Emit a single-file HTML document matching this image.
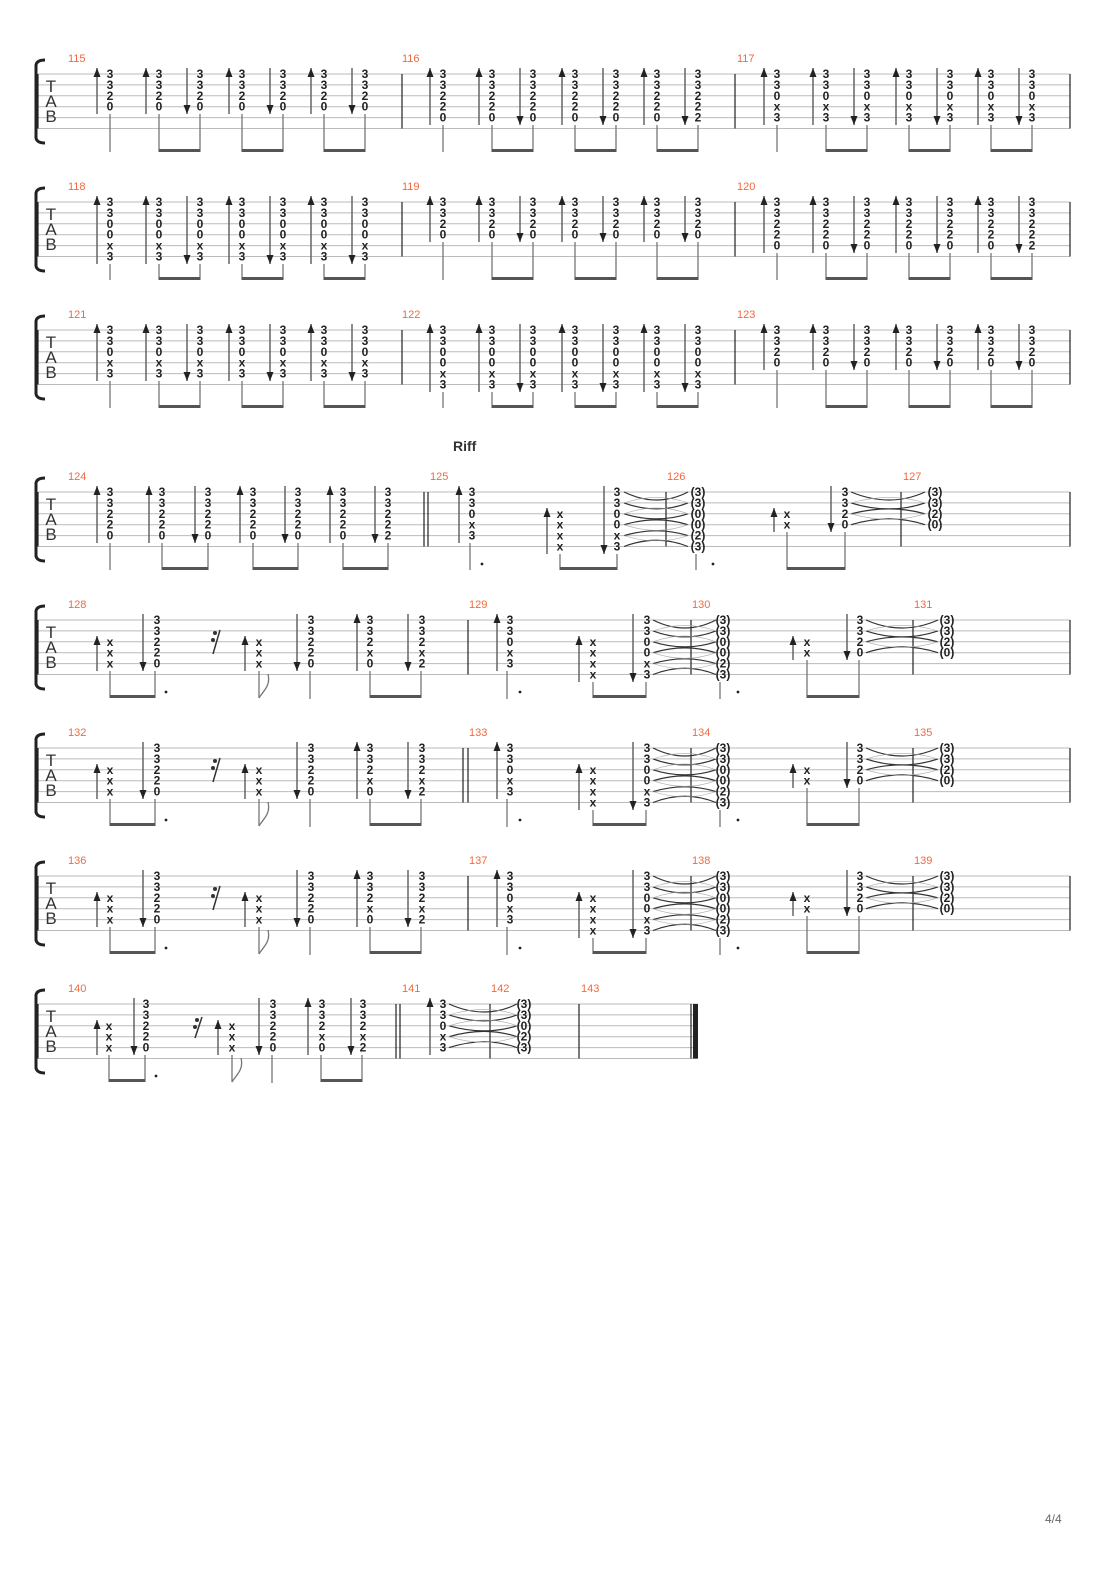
<!DOCTYPE html>
<html><head><meta charset="utf-8"><style>
html,body{margin:0;padding:0;background:#fff}
svg{display:block}
.d{font-family:"Liberation Sans",sans-serif;font-weight:bold;font-size:12px;text-anchor:middle;fill:#222}
.n{font-family:"Liberation Sans",sans-serif;font-size:11px;fill:#f4683c}
.t{font-family:"Liberation Sans",sans-serif;font-size:17px;fill:#333;text-anchor:middle}
.st{stroke:#bbb;stroke-width:1;fill:none}
.bl{stroke:#222;stroke-width:1.2;fill:none}
.br{stroke:#222;stroke-width:3;fill:none}
.sh{stroke:#666;stroke-width:1.5;fill:none}
.hd{fill:#222}
.sm{stroke:#777;stroke-width:1.3;fill:none}
.bm{stroke:#555;stroke-width:3;fill:none}
.ti{stroke:#333;stroke-width:1.2;fill:none}
.tt{stroke:#aaa;stroke-width:0.6;fill:none}
</style></head><body>
<svg width="1110" height="1570" viewBox="0 0 1110 1570" xmlns="http://www.w3.org/2000/svg">

<!-- ===== SYSTEM 1 ===== -->
<g>
<path class="st" d="M38 74H1070M38 84.9H1070M38 95.8H1070M38 106.7H1070M38 117.6H1070M38 128.5H1070"/>
<path class="bl" d="M38 74V128.5M402 74V128.5M735 74V128.5M1070 74V128.5"/>
<path class="br" d="M45 60Q37 60 36 65V138Q37 143 45 143"/>
<text class="t" x="51" y="92">T</text><text class="t" x="51" y="107">A</text><text class="t" x="51" y="122">B</text>
<text class="n" x="68" y="62">115</text><text class="n" x="402" y="62">116</text><text class="n" x="737" y="62">117</text>
<!-- A -->
<text class="d" x="110 110 110 110" y="78 88.9 99.8 110.7">3320</text>
<text class="d" x="159 159 159 159" y="78 88.9 99.8 110.7">3320</text>
<text class="d" x="200 200 200 200" y="78 88.9 99.8 110.7">3320</text>
<text class="d" x="242 242 242 242" y="78 88.9 99.8 110.7">3320</text>
<text class="d" x="283 283 283 283" y="78 88.9 99.8 110.7">3320</text>
<text class="d" x="324 324 324 324" y="78 88.9 99.8 110.7">3320</text>
<text class="d" x="365 365 365 365" y="78 88.9 99.8 110.7">3320</text>
<path class="sh" d="M97 68V114M146 68V114M187 68V114M229 68V114M270 68V114M311 68V114M352 68V114"/>
<path class="hd" d="M97 68l-3.5 9h7zM146 68l-3.5 9h7zM229 68l-3.5 9h7zM311 68l-3.5 9h7zM187 114l-3.5-9h7zM270 114l-3.5-9h7zM352 114l-3.5-9h7z"/>
<path class="sm" d="M110 114V152M159 114V152M200 114V152M242 114V152M283 114V152M324 114V152M365 114V152"/>
<path class="bm" d="M159 150.5H200M242 150.5H283M324 150.5H365"/>
<!-- B -->
<text class="d" x="443 443 443 443 443" y="78 88.9 99.8 110.7 121.6">33220</text>
<text class="d" x="492 492 492 492 492" y="78 88.9 99.8 110.7 121.6">33220</text>
<text class="d" x="533 533 533 533 533" y="78 88.9 99.8 110.7 121.6">33220</text>
<text class="d" x="575 575 575 575 575" y="78 88.9 99.8 110.7 121.6">33220</text>
<text class="d" x="616 616 616 616 616" y="78 88.9 99.8 110.7 121.6">33220</text>
<text class="d" x="657 657 657 657 657" y="78 88.9 99.8 110.7 121.6">33220</text>
<text class="d" x="698 698 698 698 698" y="78 88.9 99.8 110.7 121.6">33222</text>
<path class="sh" d="M430 68V125M479 68V125M520 68V125M562 68V125M603 68V125M644 68V125M685 68V125"/>
<path class="hd" d="M430 68l-3.5 9h7zM479 68l-3.5 9h7zM562 68l-3.5 9h7zM644 68l-3.5 9h7zM520 125l-3.5-9h7zM603 125l-3.5-9h7zM685 125l-3.5-9h7z"/>
<path class="sm" d="M443 125V152M492 125V152M533 125V152M575 125V152M616 125V152M657 125V152M698 125V152"/>
<path class="bm" d="M492 150.5H533M575 150.5H616M657 150.5H698"/>
<!-- C -->
<text class="d" x="777 777 777 777 777" y="78 88.9 99.8 110.7 121.6">330x3</text>
<text class="d" x="826 826 826 826 826" y="78 88.9 99.8 110.7 121.6">330x3</text>
<text class="d" x="867 867 867 867 867" y="78 88.9 99.8 110.7 121.6">330x3</text>
<text class="d" x="909 909 909 909 909" y="78 88.9 99.8 110.7 121.6">330x3</text>
<text class="d" x="950 950 950 950 950" y="78 88.9 99.8 110.7 121.6">330x3</text>
<text class="d" x="991 991 991 991 991" y="78 88.9 99.8 110.7 121.6">330x3</text>
<text class="d" x="1032 1032 1032 1032 1032" y="78 88.9 99.8 110.7 121.6">330x3</text>
<path class="sh" d="M764 68V125M813 68V125M854 68V125M896 68V125M937 68V125M978 68V125M1019 68V125"/>
<path class="hd" d="M764 68l-3.5 9h7zM813 68l-3.5 9h7zM896 68l-3.5 9h7zM978 68l-3.5 9h7zM854 125l-3.5-9h7zM937 125l-3.5-9h7zM1019 125l-3.5-9h7z"/>
<path class="sm" d="M777 125V152M826 125V152M867 125V152M909 125V152M950 125V152M991 125V152M1032 125V152"/>
<path class="bm" d="M826 150.5H867M909 150.5H950M991 150.5H1032"/>
</g>

<!-- ===== SYSTEM 2 ===== -->
<g transform="translate(0 128)">
<path class="st" d="M38 74H1070M38 84.9H1070M38 95.8H1070M38 106.7H1070M38 117.6H1070M38 128.5H1070"/>
<path class="bl" d="M38 74V128.5M402 74V128.5M735 74V128.5M1070 74V128.5"/>
<path class="br" d="M45 60Q37 60 36 65V138Q37 143 45 143"/>
<text class="t" x="51" y="92">T</text><text class="t" x="51" y="107">A</text><text class="t" x="51" y="122">B</text>
<text class="n" x="68" y="62">118</text><text class="n" x="402" y="62">119</text><text class="n" x="737" y="62">120</text>
<!-- A 6 -->
<text class="d" x="110 110 110 110 110 110" y="78 88.9 99.8 110.7 121.6 132.5">3300x3</text>
<text class="d" x="159 159 159 159 159 159" y="78 88.9 99.8 110.7 121.6 132.5">3300x3</text>
<text class="d" x="200 200 200 200 200 200" y="78 88.9 99.8 110.7 121.6 132.5">3300x3</text>
<text class="d" x="242 242 242 242 242 242" y="78 88.9 99.8 110.7 121.6 132.5">3300x3</text>
<text class="d" x="283 283 283 283 283 283" y="78 88.9 99.8 110.7 121.6 132.5">3300x3</text>
<text class="d" x="324 324 324 324 324 324" y="78 88.9 99.8 110.7 121.6 132.5">3300x3</text>
<text class="d" x="365 365 365 365 365 365" y="78 88.9 99.8 110.7 121.6 132.5">3300x3</text>
<path class="sh" d="M97 68V136M146 68V136M187 68V136M229 68V136M270 68V136M311 68V136M352 68V136"/>
<path class="hd" d="M97 68l-3.5 9h7zM146 68l-3.5 9h7zM229 68l-3.5 9h7zM311 68l-3.5 9h7zM187 136l-3.5-9h7zM270 136l-3.5-9h7zM352 136l-3.5-9h7z"/>
<path class="sm" d="M110 136V152M159 136V152M200 136V152M242 136V152M283 136V152M324 136V152M365 136V152"/>
<path class="bm" d="M159 150.5H200M242 150.5H283M324 150.5H365"/>
<!-- B 4 -->
<text class="d" x="443 443 443 443" y="78 88.9 99.8 110.7">3320</text>
<text class="d" x="492 492 492 492" y="78 88.9 99.8 110.7">3320</text>
<text class="d" x="533 533 533 533" y="78 88.9 99.8 110.7">3320</text>
<text class="d" x="575 575 575 575" y="78 88.9 99.8 110.7">3320</text>
<text class="d" x="616 616 616 616" y="78 88.9 99.8 110.7">3320</text>
<text class="d" x="657 657 657 657" y="78 88.9 99.8 110.7">3320</text>
<text class="d" x="698 698 698 698" y="78 88.9 99.8 110.7">3320</text>
<path class="sh" d="M430 68V114M479 68V114M520 68V114M562 68V114M603 68V114M644 68V114M685 68V114"/>
<path class="hd" d="M430 68l-3.5 9h7zM479 68l-3.5 9h7zM562 68l-3.5 9h7zM644 68l-3.5 9h7zM520 114l-3.5-9h7zM603 114l-3.5-9h7zM685 114l-3.5-9h7z"/>
<path class="sm" d="M443 114V152M492 114V152M533 114V152M575 114V152M616 114V152M657 114V152M698 114V152"/>
<path class="bm" d="M492 150.5H533M575 150.5H616M657 150.5H698"/>
<!-- C 5 -->
<text class="d" x="777 777 777 777 777" y="78 88.9 99.8 110.7 121.6">33220</text>
<text class="d" x="826 826 826 826 826" y="78 88.9 99.8 110.7 121.6">33220</text>
<text class="d" x="867 867 867 867 867" y="78 88.9 99.8 110.7 121.6">33220</text>
<text class="d" x="909 909 909 909 909" y="78 88.9 99.8 110.7 121.6">33220</text>
<text class="d" x="950 950 950 950 950" y="78 88.9 99.8 110.7 121.6">33220</text>
<text class="d" x="991 991 991 991 991" y="78 88.9 99.8 110.7 121.6">33220</text>
<text class="d" x="1032 1032 1032 1032 1032" y="78 88.9 99.8 110.7 121.6">33222</text>
<path class="sh" d="M764 68V125M813 68V125M854 68V125M896 68V125M937 68V125M978 68V125M1019 68V125"/>
<path class="hd" d="M764 68l-3.5 9h7zM813 68l-3.5 9h7zM896 68l-3.5 9h7zM978 68l-3.5 9h7zM854 125l-3.5-9h7zM937 125l-3.5-9h7zM1019 125l-3.5-9h7z"/>
<path class="sm" d="M777 125V152M826 125V152M867 125V152M909 125V152M950 125V152M991 125V152M1032 125V152"/>
<path class="bm" d="M826 150.5H867M909 150.5H950M991 150.5H1032"/>
</g>

<!-- ===== SYSTEM 3 ===== -->
<g transform="translate(0 256)">
<path class="st" d="M38 74H1070M38 84.9H1070M38 95.8H1070M38 106.7H1070M38 117.6H1070M38 128.5H1070"/>
<path class="bl" d="M38 74V128.5M402 74V128.5M735 74V128.5M1070 74V128.5"/>
<path class="br" d="M45 60Q37 60 36 65V138Q37 143 45 143"/>
<text class="t" x="51" y="92">T</text><text class="t" x="51" y="107">A</text><text class="t" x="51" y="122">B</text>
<text class="n" x="68" y="62">121</text><text class="n" x="402" y="62">122</text><text class="n" x="737" y="62">123</text>
<!-- A 5 -->
<text class="d" x="110 110 110 110 110" y="78 88.9 99.8 110.7 121.6">330x3</text>
<text class="d" x="159 159 159 159 159" y="78 88.9 99.8 110.7 121.6">330x3</text>
<text class="d" x="200 200 200 200 200" y="78 88.9 99.8 110.7 121.6">330x3</text>
<text class="d" x="242 242 242 242 242" y="78 88.9 99.8 110.7 121.6">330x3</text>
<text class="d" x="283 283 283 283 283" y="78 88.9 99.8 110.7 121.6">330x3</text>
<text class="d" x="324 324 324 324 324" y="78 88.9 99.8 110.7 121.6">330x3</text>
<text class="d" x="365 365 365 365 365" y="78 88.9 99.8 110.7 121.6">330x3</text>
<path class="sh" d="M97 68V125M146 68V125M187 68V125M229 68V125M270 68V125M311 68V125M352 68V125"/>
<path class="hd" d="M97 68l-3.5 9h7zM146 68l-3.5 9h7zM229 68l-3.5 9h7zM311 68l-3.5 9h7zM187 125l-3.5-9h7zM270 125l-3.5-9h7zM352 125l-3.5-9h7z"/>
<path class="sm" d="M110 125V152M159 125V152M200 125V152M242 125V152M283 125V152M324 125V152M365 125V152"/>
<path class="bm" d="M159 150.5H200M242 150.5H283M324 150.5H365"/>
<!-- B 6 -->
<text class="d" x="443 443 443 443 443 443" y="78 88.9 99.8 110.7 121.6 132.5">3300x3</text>
<text class="d" x="492 492 492 492 492 492" y="78 88.9 99.8 110.7 121.6 132.5">3300x3</text>
<text class="d" x="533 533 533 533 533 533" y="78 88.9 99.8 110.7 121.6 132.5">3300x3</text>
<text class="d" x="575 575 575 575 575 575" y="78 88.9 99.8 110.7 121.6 132.5">3300x3</text>
<text class="d" x="616 616 616 616 616 616" y="78 88.9 99.8 110.7 121.6 132.5">3300x3</text>
<text class="d" x="657 657 657 657 657 657" y="78 88.9 99.8 110.7 121.6 132.5">3300x3</text>
<text class="d" x="698 698 698 698 698 698" y="78 88.9 99.8 110.7 121.6 132.5">3300x3</text>
<path class="sh" d="M430 68V136M479 68V136M520 68V136M562 68V136M603 68V136M644 68V136M685 68V136"/>
<path class="hd" d="M430 68l-3.5 9h7zM479 68l-3.5 9h7zM562 68l-3.5 9h7zM644 68l-3.5 9h7zM520 136l-3.5-9h7zM603 136l-3.5-9h7zM685 136l-3.5-9h7z"/>
<path class="sm" d="M443 136V152M492 136V152M533 136V152M575 136V152M616 136V152M657 136V152M698 136V152"/>
<path class="bm" d="M492 150.5H533M575 150.5H616M657 150.5H698"/>
<!-- C 4 -->
<text class="d" x="777 777 777 777" y="78 88.9 99.8 110.7">3320</text>
<text class="d" x="826 826 826 826" y="78 88.9 99.8 110.7">3320</text>
<text class="d" x="867 867 867 867" y="78 88.9 99.8 110.7">3320</text>
<text class="d" x="909 909 909 909" y="78 88.9 99.8 110.7">3320</text>
<text class="d" x="950 950 950 950" y="78 88.9 99.8 110.7">3320</text>
<text class="d" x="991 991 991 991" y="78 88.9 99.8 110.7">3320</text>
<text class="d" x="1032 1032 1032 1032" y="78 88.9 99.8 110.7">3320</text>
<path class="sh" d="M764 68V114M813 68V114M854 68V114M896 68V114M937 68V114M978 68V114M1019 68V114"/>
<path class="hd" d="M764 68l-3.5 9h7zM813 68l-3.5 9h7zM896 68l-3.5 9h7zM978 68l-3.5 9h7zM854 114l-3.5-9h7zM937 114l-3.5-9h7zM1019 114l-3.5-9h7z"/>
<path class="sm" d="M777 114V152M826 114V152M867 114V152M909 114V152M950 114V152M991 114V152M1032 114V152"/>
<path class="bm" d="M826 150.5H867M909 150.5H950M991 150.5H1032"/>
</g>

<!-- Riff label -->
<text x="453" y="451" style="font-family:'Liberation Sans',sans-serif;font-weight:bold;font-size:14px;fill:#333">Riff</text>

<!-- ===== SYSTEM 4 ===== -->
<g transform="translate(0 418)">
<path class="st" d="M38 74H1070M38 84.9H1070M38 95.8H1070M38 106.7H1070M38 117.6H1070M38 128.5H1070"/>
<path class="bl" d="M38 74V128.5M424 74V128.5M428 74V128.5M666 74V128.5M901 74V128.5M1070 74V128.5"/>
<path class="br" d="M45 60Q37 60 36 65V138Q37 143 45 143"/>
<text class="t" x="51" y="92">T</text><text class="t" x="51" y="107">A</text><text class="t" x="51" y="122">B</text>
<text class="n" x="68" y="62">124</text><text class="n" x="430" y="62">125</text><text class="n" x="667" y="62">126</text><text class="n" x="903" y="62">127</text>
<!-- 124 -->
<text class="d" x="110 110 110 110 110" y="78 88.9 99.8 110.7 121.6">33220</text>
<text class="d" x="162 162 162 162 162" y="78 88.9 99.8 110.7 121.6">33220</text>
<text class="d" x="208 208 208 208 208" y="78 88.9 99.8 110.7 121.6">33220</text>
<text class="d" x="253 253 253 253 253" y="78 88.9 99.8 110.7 121.6">33220</text>
<text class="d" x="298 298 298 298 298" y="78 88.9 99.8 110.7 121.6">33220</text>
<text class="d" x="343 343 343 343 343" y="78 88.9 99.8 110.7 121.6">33220</text>
<text class="d" x="388 388 388 388 388" y="78 88.9 99.8 110.7 121.6">33222</text>
<path class="sh" d="M97 68V125M149 68V125M195 68V125M240 68V125M285 68V125M330 68V125M375 68V125"/>
<path class="hd" d="M97 68l-3.5 9h7zM149 68l-3.5 9h7zM240 68l-3.5 9h7zM330 68l-3.5 9h7zM195 125l-3.5-9h7zM285 125l-3.5-9h7zM375 125l-3.5-9h7z"/>
<path class="sm" d="M110 125V152M162 125V152M208 125V152M253 125V152M298 125V152M343 125V152M388 125V152"/>
<path class="bm" d="M162 150.5H208M253 150.5H298M343 150.5H388"/>
<!-- 125-127 -->
<text class="d" x="472 472 472 472 472" y="78 88.9 99.8 110.7 121.6">330x3</text>
<text class="d" x="560 560 560 560" y="99.8 110.7 121.6 132.5">xxxx</text>
<text class="d" x="617 617 617 617 617 617" y="78 88.9 99.8 110.7 121.6 132.5">3300x3</text>
<text class="d"><tspan x="698" y="78">(3)</tspan><tspan x="698" y="88.9">(3)</tspan><tspan x="698" y="99.8">(0)</tspan><tspan x="698" y="110.7">(0)</tspan><tspan x="698" y="121.6">(2)</tspan><tspan x="698" y="132.5">(3)</tspan></text>
<text class="d" x="787 787" y="99.8 110.7">xx</text>
<text class="d" x="845 845 845 845" y="78 88.9 99.8 110.7">3320</text>
<text class="d"><tspan x="935" y="78">(3)</tspan><tspan x="935" y="88.9">(3)</tspan><tspan x="935" y="99.8">(2)</tspan><tspan x="935" y="110.7">(0)</tspan></text>
<path class="sh" d="M459 68V125M547 90V136M604 68V136M774 90V114M831 68V114"/>
<path class="hd" d="M459 68l-3.5 9h7zM547 90l-3.5 9h7zM774 90l-3.5 9h7zM604 136l-3.5-9h7zM831 114l-3.5-9h7z"/>
<path class="sm" d="M470 125V152M560 136V152M617 136V152M696 136V152M787 114V152M845 114V152"/>
<path class="bm" d="M560 150.5H617M787 150.5H845"/>
<circle cx="482" cy="146" r="1.4" fill="#222"/><circle cx="713" cy="146" r="1.4" fill="#222"/>
<path class="ti" d="M624 74Q657 90 688 74M624 84.9Q657 97 688 84.9M624 95.8Q657 106 688 95.8M624 106.7Q657 97 688 106.7M624 117.6Q657 108 688 117.6M624 128.5Q657 116 688 128.5"/>
<path class="tt" d="M624 84.9Q657 74 688 84.9M624 95.8Q657 84 688 95.8M624 106.7Q657 118 688 106.7M624 117.6Q657 128 688 117.6"/>
<path class="ti" d="M851 74Q890 90 925 74M851 84.9Q890 97 925 84.9M851 95.8Q890 86 925 95.8M851 106.7Q890 95 925 106.7"/>
<path class="tt" d="M851 84.9Q890 74 925 84.9M851 95.8Q890 107 925 95.8"/>
</g>

<!-- ===== SYSTEMS 5-7 ===== -->
<g transform="translate(0 546)">
<path class="st" d="M38 74H1070M38 84.9H1070M38 95.8H1070M38 106.7H1070M38 117.6H1070M38 128.5H1070"/>
<path class="bl" d="M38 74V128.5M468 74V128.5M691 74V128.5M913 74V128.5M1070 74V128.5"/>
<path class="br" d="M45 60Q37 60 36 65V138Q37 143 45 143"/>
<text class="t" x="51" y="92">T</text><text class="t" x="51" y="107">A</text><text class="t" x="51" y="122">B</text>
<text class="n" x="68" y="62">128</text><text class="n" x="469" y="62">129</text><text class="n" x="692" y="62">130</text><text class="n" x="914" y="62">131</text>
<text class="d" x="110 110 110" y="99.8 110.7 121.6">xxx</text>
<text class="d" x="157 157 157 157 157" y="78 88.9 99.8 110.7 121.6">33220</text>
<text class="d" x="259 259 259" y="99.8 110.7 121.6">xxx</text>
<text class="d" x="311 311 311 311 311" y="78 88.9 99.8 110.7 121.6">33220</text>
<text class="d" x="370 370 370 370 370" y="78 88.9 99.8 110.7 121.6">332x0</text>
<text class="d" x="422 422 422 422 422" y="78 88.9 99.8 110.7 121.6">332x2</text>
<text class="d" x="510 510 510 510 510" y="78 88.9 99.8 110.7 121.6">330x3</text>
<text class="d" x="593 593 593 593" y="99.8 110.7 121.6 132.5">xxxx</text>
<text class="d" x="647 647 647 647 647 647" y="78 88.9 99.8 110.7 121.6 132.5">3300x3</text>
<text class="d"><tspan x="723" y="78">(3)</tspan><tspan x="723" y="88.9">(3)</tspan><tspan x="723" y="99.8">(0)</tspan><tspan x="723" y="110.7">(0)</tspan><tspan x="723" y="121.6">(2)</tspan><tspan x="723" y="132.5">(3)</tspan></text>
<text class="d" x="807 807" y="99.8 110.7">xx</text>
<text class="d" x="860 860 860 860" y="78 88.9 99.8 110.7">3320</text>
<text class="d"><tspan x="947" y="78">(3)</tspan><tspan x="947" y="88.9">(3)</tspan><tspan x="947" y="99.8">(2)</tspan><tspan x="947" y="110.7">(0)</tspan></text>
<path class="sh" d="M97 90V125M143 68V125M245 90V125M297 68V125M357 68V125M408 68V125M497 68V125M579 90V136M633 68V136M793 90V114M847 68V114"/>
<path class="hd" d="M97 90l-3.5 9h7zM245 90l-3.5 9h7zM357 68l-3.5 9h7zM497 68l-3.5 9h7zM579 90l-3.5 9h7zM793 90l-3.5 9h7zM143 125l-3.5-9h7zM297 125l-3.5-9h7zM408 125l-3.5-9h7zM633 136l-3.5-9h7zM847 114l-3.5-9h7z"/>
<path class="sm" d="M110 125V152M155 125V152M259 125V152M310 125V153M370 125V152M421 125V152M507 125V153M593 136V152M646 136V152M720 136V153M807 114V152M859 114V152"/>
<path class="sm" d="M259 152C263 145 271 140 268 128"/>
<path class="bm" d="M110 150.5H155M370 150.5H421M593 150.5H646M807 150.5H859"/>
<circle cx="166" cy="146" r="1.4" fill="#222"/><circle cx="520" cy="146" r="1.4" fill="#222"/><circle cx="738" cy="146" r="1.4" fill="#222"/>
<path d="M220 84L213 108" stroke="#333" stroke-width="1.5"/><circle cx="215" cy="87" r="2" fill="#333"/><circle cx="213" cy="94" r="2" fill="#333"/>
<path class="ti" d="M653 74Q685 90 716 74M653 84.9Q685 97 716 84.9M653 95.8Q685 106 716 95.8M653 106.7Q685 97 716 106.7M653 117.6Q685 108 716 117.6M653 128.5Q685 116 716 128.5"/>
<path class="tt" d="M653 84.9Q685 74 716 84.9M653 95.8Q685 84 716 95.8M653 106.7Q685 118 716 106.7M653 117.6Q685 128 716 117.6"/>
<path class="ti" d="M866 74Q902 90 938 74M866 84.9Q902 97 938 84.9M866 95.8Q902 86 938 95.8M866 106.7Q902 95 938 106.7"/>
<path class="tt" d="M866 84.9Q902 74 938 84.9M866 95.8Q902 107 938 95.8"/>
</g>

<g transform="translate(0 674)">
<path class="st" d="M38 74H1070M38 84.9H1070M38 95.8H1070M38 106.7H1070M38 117.6H1070M38 128.5H1070"/>
<path class="bl" d="M38 74V128.5M463 74V128.5M468 74V128.5M691 74V128.5M913 74V128.5M1070 74V128.5"/>
<path class="br" d="M45 60Q37 60 36 65V138Q37 143 45 143"/>
<text class="t" x="51" y="92">T</text><text class="t" x="51" y="107">A</text><text class="t" x="51" y="122">B</text>
<text class="n" x="68" y="62">132</text><text class="n" x="469" y="62">133</text><text class="n" x="692" y="62">134</text><text class="n" x="914" y="62">135</text>
<text class="d" x="110 110 110" y="99.8 110.7 121.6">xxx</text>
<text class="d" x="157 157 157 157 157" y="78 88.9 99.8 110.7 121.6">33220</text>
<text class="d" x="259 259 259" y="99.8 110.7 121.6">xxx</text>
<text class="d" x="311 311 311 311 311" y="78 88.9 99.8 110.7 121.6">33220</text>
<text class="d" x="370 370 370 370 370" y="78 88.9 99.8 110.7 121.6">332x0</text>
<text class="d" x="422 422 422 422 422" y="78 88.9 99.8 110.7 121.6">332x2</text>
<text class="d" x="510 510 510 510 510" y="78 88.9 99.8 110.7 121.6">330x3</text>
<text class="d" x="593 593 593 593" y="99.8 110.7 121.6 132.5">xxxx</text>
<text class="d" x="647 647 647 647 647 647" y="78 88.9 99.8 110.7 121.6 132.5">3300x3</text>
<text class="d"><tspan x="723" y="78">(3)</tspan><tspan x="723" y="88.9">(3)</tspan><tspan x="723" y="99.8">(0)</tspan><tspan x="723" y="110.7">(0)</tspan><tspan x="723" y="121.6">(2)</tspan><tspan x="723" y="132.5">(3)</tspan></text>
<text class="d" x="807 807" y="99.8 110.7">xx</text>
<text class="d" x="860 860 860 860" y="78 88.9 99.8 110.7">3320</text>
<text class="d"><tspan x="947" y="78">(3)</tspan><tspan x="947" y="88.9">(3)</tspan><tspan x="947" y="99.8">(2)</tspan><tspan x="947" y="110.7">(0)</tspan></text>
<path class="sh" d="M97 90V125M143 68V125M245 90V125M297 68V125M357 68V125M408 68V125M497 68V125M579 90V136M633 68V136M793 90V114M847 68V114"/>
<path class="hd" d="M97 90l-3.5 9h7zM245 90l-3.5 9h7zM357 68l-3.5 9h7zM497 68l-3.5 9h7zM579 90l-3.5 9h7zM793 90l-3.5 9h7zM143 125l-3.5-9h7zM297 125l-3.5-9h7zM408 125l-3.5-9h7zM633 136l-3.5-9h7zM847 114l-3.5-9h7z"/>
<path class="sm" d="M110 125V152M155 125V152M259 125V152M310 125V153M370 125V152M421 125V152M507 125V153M593 136V152M646 136V152M720 136V153M807 114V152M859 114V152"/>
<path class="sm" d="M259 152C263 145 271 140 268 128"/>
<path class="bm" d="M110 150.5H155M370 150.5H421M593 150.5H646M807 150.5H859"/>
<circle cx="166" cy="146" r="1.4" fill="#222"/><circle cx="520" cy="146" r="1.4" fill="#222"/><circle cx="738" cy="146" r="1.4" fill="#222"/>
<path d="M220 84L213 108" stroke="#333" stroke-width="1.5"/><circle cx="215" cy="87" r="2" fill="#333"/><circle cx="213" cy="94" r="2" fill="#333"/>
<path class="ti" d="M653 74Q685 90 716 74M653 84.9Q685 97 716 84.9M653 95.8Q685 106 716 95.8M653 106.7Q685 97 716 106.7M653 117.6Q685 108 716 117.6M653 128.5Q685 116 716 128.5"/>
<path class="tt" d="M653 84.9Q685 74 716 84.9M653 95.8Q685 84 716 95.8M653 106.7Q685 118 716 106.7M653 117.6Q685 128 716 117.6"/>
<path class="ti" d="M866 74Q902 90 938 74M866 84.9Q902 97 938 84.9M866 95.8Q902 86 938 95.8M866 106.7Q902 95 938 106.7"/>
<path class="tt" d="M866 84.9Q902 74 938 84.9M866 95.8Q902 107 938 95.8"/>
</g>

<g transform="translate(0 802)">
<path class="st" d="M38 74H1070M38 84.9H1070M38 95.8H1070M38 106.7H1070M38 117.6H1070M38 128.5H1070"/>
<path class="bl" d="M38 74V128.5M468 74V128.5M691 74V128.5M913 74V128.5M1070 74V128.5"/>
<path class="br" d="M45 60Q37 60 36 65V138Q37 143 45 143"/>
<text class="t" x="51" y="92">T</text><text class="t" x="51" y="107">A</text><text class="t" x="51" y="122">B</text>
<text class="n" x="68" y="62">136</text><text class="n" x="469" y="62">137</text><text class="n" x="692" y="62">138</text><text class="n" x="914" y="62">139</text>
<text class="d" x="110 110 110" y="99.8 110.7 121.6">xxx</text>
<text class="d" x="157 157 157 157 157" y="78 88.9 99.8 110.7 121.6">33220</text>
<text class="d" x="259 259 259" y="99.8 110.7 121.6">xxx</text>
<text class="d" x="311 311 311 311 311" y="78 88.9 99.8 110.7 121.6">33220</text>
<text class="d" x="370 370 370 370 370" y="78 88.9 99.8 110.7 121.6">332x0</text>
<text class="d" x="422 422 422 422 422" y="78 88.9 99.8 110.7 121.6">332x2</text>
<text class="d" x="510 510 510 510 510" y="78 88.9 99.8 110.7 121.6">330x3</text>
<text class="d" x="593 593 593 593" y="99.8 110.7 121.6 132.5">xxxx</text>
<text class="d" x="647 647 647 647 647 647" y="78 88.9 99.8 110.7 121.6 132.5">3300x3</text>
<text class="d"><tspan x="723" y="78">(3)</tspan><tspan x="723" y="88.9">(3)</tspan><tspan x="723" y="99.8">(0)</tspan><tspan x="723" y="110.7">(0)</tspan><tspan x="723" y="121.6">(2)</tspan><tspan x="723" y="132.5">(3)</tspan></text>
<text class="d" x="807 807" y="99.8 110.7">xx</text>
<text class="d" x="860 860 860 860" y="78 88.9 99.8 110.7">3320</text>
<text class="d"><tspan x="947" y="78">(3)</tspan><tspan x="947" y="88.9">(3)</tspan><tspan x="947" y="99.8">(2)</tspan><tspan x="947" y="110.7">(0)</tspan></text>
<path class="sh" d="M97 90V125M143 68V125M245 90V125M297 68V125M357 68V125M408 68V125M497 68V125M579 90V136M633 68V136M793 90V114M847 68V114"/>
<path class="hd" d="M97 90l-3.5 9h7zM245 90l-3.5 9h7zM357 68l-3.5 9h7zM497 68l-3.5 9h7zM579 90l-3.5 9h7zM793 90l-3.5 9h7zM143 125l-3.5-9h7zM297 125l-3.5-9h7zM408 125l-3.5-9h7zM633 136l-3.5-9h7zM847 114l-3.5-9h7z"/>
<path class="sm" d="M110 125V152M155 125V152M259 125V152M310 125V153M370 125V152M421 125V152M507 125V153M593 136V152M646 136V152M720 136V153M807 114V152M859 114V152"/>
<path class="sm" d="M259 152C263 145 271 140 268 128"/>
<path class="bm" d="M110 150.5H155M370 150.5H421M593 150.5H646M807 150.5H859"/>
<circle cx="166" cy="146" r="1.4" fill="#222"/><circle cx="520" cy="146" r="1.4" fill="#222"/><circle cx="738" cy="146" r="1.4" fill="#222"/>
<path d="M220 84L213 108" stroke="#333" stroke-width="1.5"/><circle cx="215" cy="87" r="2" fill="#333"/><circle cx="213" cy="94" r="2" fill="#333"/>
<path class="ti" d="M653 74Q685 90 716 74M653 84.9Q685 97 716 84.9M653 95.8Q685 106 716 95.8M653 106.7Q685 97 716 106.7M653 117.6Q685 108 716 117.6M653 128.5Q685 116 716 128.5"/>
<path class="tt" d="M653 84.9Q685 74 716 84.9M653 95.8Q685 84 716 95.8M653 106.7Q685 118 716 106.7M653 117.6Q685 128 716 117.6"/>
<path class="ti" d="M866 74Q902 90 938 74M866 84.9Q902 97 938 84.9M866 95.8Q902 86 938 95.8M866 106.7Q902 95 938 106.7"/>
<path class="tt" d="M866 84.9Q902 74 938 84.9M866 95.8Q902 107 938 95.8"/>
</g>

<!-- ===== SYSTEM 8 ===== -->
<g transform="translate(0 930)">
<path class="st" d="M38 74H698M38 84.9H698M38 95.8H698M38 106.7H698M38 117.6H698M38 128.5H698"/>
<path class="bl" d="M38 74V128.5M396 74V128.5M400 74V128.5M490 74V128.5M579 74V128.5M691 74V128.5"/>
<rect x="693" y="74" width="5" height="54.5" fill="#222"/>
<path class="br" d="M45 60Q37 60 36 65V138Q37 143 45 143"/>
<text class="t" x="51" y="92">T</text><text class="t" x="51" y="107">A</text><text class="t" x="51" y="122">B</text>
<text class="n" x="68" y="62">140</text><text class="n" x="402" y="62">141</text><text class="n" x="491" y="62">142</text><text class="n" x="581" y="62">143</text>
<text class="d" x="109 109 109" y="99.8 110.7 121.6">xxx</text>
<text class="d" x="146 146 146 146 146" y="78 88.9 99.8 110.7 121.6">33220</text>
<text class="d" x="232 232 232" y="99.8 110.7 121.6">xxx</text>
<text class="d" x="273 273 273 273 273" y="78 88.9 99.8 110.7 121.6">33220</text>
<text class="d" x="322 322 322 322 322" y="78 88.9 99.8 110.7 121.6">332x0</text>
<text class="d" x="363 363 363 363 363" y="78 88.9 99.8 110.7 121.6">332x2</text>
<text class="d" x="443 443 443 443 443" y="78 88.9 99.8 110.7 121.6">330x3</text>
<text class="d"><tspan x="524" y="78">(3)</tspan><tspan x="524" y="88.9">(3)</tspan><tspan x="524" y="99.8">(0)</tspan><tspan x="524" y="110.7">(2)</tspan><tspan x="524" y="121.6">(3)</tspan></text>
<path class="sh" d="M97 90V125M134 68V125M218 90V125M259 68V125M308 68V125M351 68V125M430 68V125"/>
<path class="hd" d="M97 90l-3.5 9h7zM218 90l-3.5 9h7zM308 68l-3.5 9h7zM430 68l-3.5 9h7zM134 125l-3.5-9h7zM259 125l-3.5-9h7zM351 125l-3.5-9h7z"/>
<path class="sm" d="M109 125V152M145 125V152M232 125V152M272 125V153M321 125V152M362 125V152"/>
<path class="sm" d="M232 152C236 145 244 140 241 128"/>
<path class="bm" d="M109 150.5H145M321 150.5H362"/>
<circle cx="156" cy="146" r="1.4" fill="#222"/>
<path d="M202 87L195 108" stroke="#333" stroke-width="1.5"/><circle cx="197" cy="90" r="2" fill="#333"/><circle cx="195" cy="97" r="2" fill="#333"/>
<path class="ti" d="M449 74Q485 90 517 74M449 84.9Q485 97 517 84.9M449 95.8Q485 106 517 95.8M449 106.7Q485 96 517 106.7M449 117.6Q485 106 517 117.6"/>
<path class="tt" d="M449 84.9Q485 74 517 84.9M449 95.8Q485 84 517 95.8M449 106.7Q485 118 517 106.7"/>
</g>

<text x="1045" y="1523" style="font-family:'Liberation Sans',sans-serif;font-size:12px;fill:#666">4/4</text>
</svg>
</body></html>
